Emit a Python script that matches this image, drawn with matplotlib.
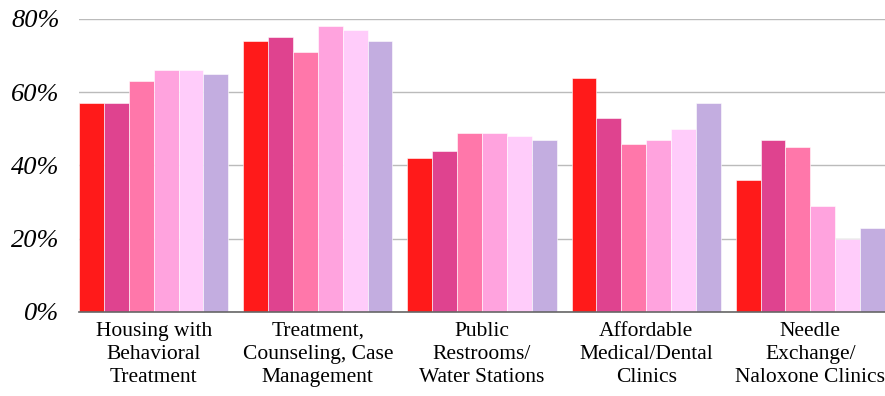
import numpy as np
import matplotlib.pyplot as plt

categories = ['Housing with\nBehavioral\nTreatment',
              'Treatment,\nCounseling, Case\nManagement',
              'Public\nRestrooms/\nWater Stations',
              'Affordable\nMedical/Dental\nClinics',
              'Needle\nExchange/\nNaloxone Clinics']
s1 = [57, 74, 42, 64, 36]
s2 = [57, 75, 44, 53, 47]
s3 = [63, 71, 49, 46, 45]
s4 = [66, 78, 49, 47, 29]
s5 = [66, 77, 48, 50, 20]
s6 = [65, 74, 47, 57, 23]
series = [s1, s2, s3, s4, s5, s6]
colors = ['#FF1A1A', '#DF438F', '#FF77AA', '#FFA3DE', '#FFCCFA', '#C3ADE0']
yticks = [0, 20, 40, 60, 80]

fig = plt.figure(figsize=(8.85, 3.96), dpi=100)
ax = fig.add_axes([79 / 885, 84 / 396, (885 - 79) / 885, 293 / 396])

x = np.arange(len(categories))
w = 0.1515
for i, vals in enumerate(series):
    ax.bar(x + (i - 2.5) * w, vals, width=w, color=colors[i],
           edgecolor='white', linewidth=0.4, zorder=2)

ax.set_xlim(-0.455, 4.455)
ax.set_ylim(0, 80)
ax.set_yticks(yticks)
ax.set_yticklabels([f'{t}%' for t in yticks], fontsize=19, family='Liberation Serif',
                   style='italic')
ax.set_xticks(x)
ax.set_xticklabels(categories, fontsize=15.5, family='Liberation Serif', linespacing=1.3)
ax.tick_params(axis='both', length=0)
ax.tick_params(axis='y', pad=14)
ax.tick_params(axis='x', pad=7)
ax.grid(axis='y', color='#bbbbbb', linewidth=1, zorder=0)
ax.set_axisbelow(True)
for s in ['top', 'right', 'left']:
    ax.spines[s].set_visible(False)
ax.spines['bottom'].set_color('#666666')
ax.spines['bottom'].set_linewidth(1.2)

fig.savefig('out.png', dpi=100)
